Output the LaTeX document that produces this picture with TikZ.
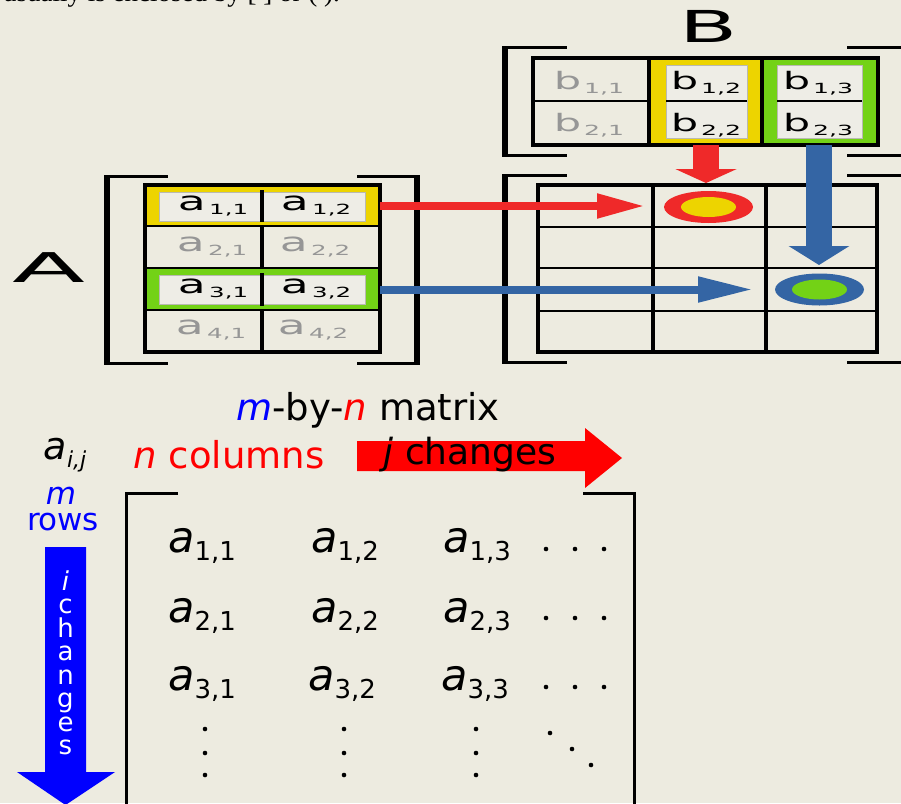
\documentclass[tikz,border=0pt]{standalone}
\usepackage{fontspec}
\setmainfont{DejaVu Sans}
\newfontfamily\serifo{Liberation Serif}
\usepackage{graphicx}
\usetikzlibrary{arrows.meta,shapes.geometric}
\definecolor{bg}{RGB}{237,235,224}
\definecolor{tyellow}{RGB}{237,212,0}
\definecolor{tgreen}{RGB}{115,210,22}
\definecolor{tred}{RGB}{239,41,41}
\definecolor{tblue}{RGB}{52,101,164}
\definecolor{cellbg}{RGB}{238,237,230}
\definecolor{cellline}{RGB}{185,185,178}
\definecolor{gtext}{RGB}{150,150,150}
\definecolor{mblue}{RGB}{0,0,255}
\definecolor{nred}{RGB}{255,0,0}
\newcommand{\tent}[2]{\scalebox{1.75}[1]{\fontsize{26}{26}\selectfont #1\kern2pt\raisebox{-4.5pt}{\fontsize{14}{14}\selectfont #2}}}
\newcommand{\bent}[1]{\scalebox{1.8}[1]{\fontsize{24}{24}\selectfont b\kern1.5pt\raisebox{-4pt}{\fontsize{14}{14}\selectfont #1}}}
\newcommand{\ment}[1]{\fontsize{43}{43}\selectfont\textit{a}\raisebox{-8pt}{\fontsize{26}{26}\selectfont #1}}
\tikzset{
  topent/.style={anchor=base, inner sep=0},
  grayent/.style={topent, text=gtext},
  cellbox/.style={fill=cellbg, draw=cellline, line width=1},
  gridout/.style={line width=3.5, black},
  gridthin/.style={line width=2.2, black},
  griddiv/.style={line width=4, black},
  brv/.style={line width=6, black},
  brh/.style={line width=3, black},
  hl/.style={inner sep=0, draw=none},
  ring/.style={ellipse, inner sep=0, minimum width=89, minimum height=32},
  core/.style={ellipse, inner sep=0, minimum width=55, minimum height=20},
  dotm/.style={black},
}
\begin{document}
\begin{tikzpicture}[x=1pt,y=-1pt]
\fill[bg] (0,0) rectangle (901,803);
\useasboundingbox (0,0) rectangle (901,803);

% clipped caption at the top edge
\node[anchor=base east, inner sep=0, font=\serifo\fontsize{27}{27}\selectfont] (cap) at (340,1.5) {usually is enclosed by [ ] or ( ).};

% ---------------- Matrix A ----------------
\fill[tyellow] (145,185) rectangle (380,226);
\fill[tgreen] (145,268) rectangle (380,310);
\foreach \yy in {192,275} {
  \filldraw[cellbox] (159,\yy) rectangle (262,\yy+29);
  \filldraw[cellbox] (262,\yy) rectangle (365,\yy+29);
}
\draw[gridout] (145,185) rectangle (380,352);
\draw[gridthin] (145,226) -- (380,226) (145,268) -- (380,268) (145,310) -- (380,310);
\draw[griddiv] (262,190) -- (262,222) (262,226) -- (262,268) (262,273) -- (262,306) (262,310) -- (262,352);
\draw[brv] (107,176) -- (107,363);
\draw[brh] (104,176) -- (168,176) (104,363) -- (168,363);
\draw[brv] (417,176) -- (417,363);
\draw[brh] (357,176) -- (420,176) (357,363) -- (420,363);
\node[hl, minimum width=235, minimum height=41] (Arow1) at (262.5,206) {};
\node[hl, minimum width=235, minimum height=41] (Arow3) at (262.5,289.5) {};

\node[topent] (a11) at (213,210) {\tent{a}{1,1}};
\node[topent] (a12) at (316,210) {\tent{a}{1,2}};
\node[grayent] (a21) at (212,251) {\tent{a}{2,1}};
\node[grayent] (a22) at (315,251) {\tent{a}{2,2}};
\node[topent] (a31) at (213,293) {\tent{a}{3,1}};
\node[topent] (a32) at (316,293) {\tent{a}{3,2}};
\node[grayent] (a41) at (211,334) {\tent{a}{4,1}};
\node[grayent] (a42) at (313,334) {\tent{a}{4,2}};
\node[anchor=base, inner sep=0] (labA) at (48.5,282) {\scalebox{2.6}[1]{\fontsize{41}{41}\selectfont A}};

% ---------------- Matrix B ----------------
\fill[tyellow] (649,58) rectangle (762,145);
\fill[tgreen] (762,58) rectangle (878,145);
\foreach \xa/\xb in {666/747,777/862} {
  \filldraw[cellbox] (\xa,65) rectangle (\xb,101);
  \filldraw[cellbox] (\xa,101) rectangle (\xb,138);
}
\draw[gridout] (533,58) rectangle (878,145);
\draw[griddiv] (649,58) -- (649,145) (762,58) -- (762,145);
\draw[gridthin] (533,101) -- (649,101) (666,101) -- (747,101) (777,101) -- (862,101);
\draw[brv] (505,47) -- (505,155);
\draw[brh] (502,47) -- (567,47) (502,155) -- (567,155);
\draw[brv] (907,47) -- (907,155);
\draw[brh] (847,47) -- (910,47) (847,155) -- (910,155);
\node[hl, minimum width=113, minimum height=87] (Bc2) at (706,101.5) {};
\node[hl, minimum width=113, minimum height=87] (Bc3) at (819,101.5) {};

\node[grayent] (b11) at (589,89) {\bent{1,1}};
\node[grayent] (b21) at (589,131) {\bent{2,1}};
\node[topent] (b12) at (706,89) {\bent{1,2}};
\node[topent] (b22) at (706,131) {\bent{2,2}};
\node[topent] (b13) at (818,89) {\bent{1,3}};
\node[topent] (b23) at (818,131) {\bent{2,3}};
\node[anchor=base, inner sep=0] (labB) at (709,42) {\scalebox{1.93}[1]{\fontsize{44}{44}\selectfont B}};

% ---------------- Result matrix ----------------
\draw[gridout] (538,185) rectangle (877,352);
\draw[griddiv] (653,185) -- (653,352) (766,185) -- (766,352);
\draw[gridthin] (538,227) -- (877,227) (538,268) -- (877,268) (538,311) -- (877,311);
\draw[brv] (505,175) -- (505,362);
\draw[brh] (502,175) -- (567,175) (502,362) -- (567,362);
\draw[brv] (907,175) -- (907,362);
\draw[brh] (847,175) -- (910,175) (847,362) -- (910,362);

\node[ring, fill=tred] (r1) at (708.5,207) {};
\node[core, fill=tyellow] (y1) at (r1.center) {};
\node[ring, fill=tblue] (r2) at (819.5,289.5) {};
\node[core, fill=tgreen] (g1) at (r2.center) {};

\coordinate (t1) at (645,206);
\coordinate (t2) at (753,289.5);
\coordinate (t3) at (706,183);
\coordinate (t4) at (819,265);
\draw[tred, line width=8, -{Triangle[length=48pt,width=23pt]}] (Arow1.east) -- (t1);
\draw[tblue, line width=8, -{Triangle[length=55pt,width=24pt]}] (Arow3.east) -- (t2);
\draw[tred, line width=26, -{Triangle[length=14pt,width=61pt]}] (Bc2.south) -- (t3);
\draw[tblue, line width=26, -{Triangle[length=19pt,width=60pt]}] (Bc3.south) -- (t4);

% ---------------- Bottom: m-by-n matrix ----------------
\node (title) at (368,410) {\fontsize{37}{37}\selectfont\textcolor{mblue}{\itshape m}-by-\textcolor{nred}{\itshape n} matrix};
\node (aij) at (65,455) {\fontsize{38}{38}\selectfont\itshape a\raisebox{-8pt}{\fontsize{22}{22}\selectfont i,j}};
\node[text=nred] (ncol) at (229,455) {\fontsize{37}{37}\selectfont\itshape n\upshape\ columns};

\fill[nred] (357,441) -- (585,441) -- (585,428) -- (622,458) -- (585,488) -- (585,471) -- (357,471) -- cycle;
\node (jch) at (470,455) {\fontsize{36}{36}\selectfont\itshape j\upshape\ changes};

\node[text=mblue, anchor=base, inner sep=0] (mlab) at (61,504) {\fontsize{31}{31}\selectfont\itshape m};
\node[text=mblue, anchor=base, inner sep=0] (rows) at (63,530) {\fontsize{31}{31}\selectfont r\kern-1.5pt ows};
\fill[mblue] (45,547) -- (86,547) -- (86,772) -- (115,772) -- (65.5,805) -- (17,772) -- (45,772) -- cycle;
\foreach \ch/\yy [count=\k] in {{\itshape i}/590,c/613.5,h/637,a/660.5,n/684,g/707.5,e/731,s/754.5} {
  \node[anchor=base, inner sep=0, text=white] (ic\k) at (65.5,\yy) {\fontsize{26}{26}\selectfont \ch};
}

\draw[line width=3] (178,493) -- (126,493) -- (126,815);
\draw[line width=3] (583,493) -- (634,493) -- (634,815);

\node[anchor=base] (m11) at (202,552) {\ment{1,1}};
\node[anchor=base] (m12) at (345,552) {\ment{1,2}};
\node[anchor=base] (m13) at (477,552) {\ment{1,3}};
\node[anchor=base] (m21) at (202,622) {\ment{2,1}};
\node[anchor=base] (m22) at (345,622) {\ment{2,2}};
\node[anchor=base] (m23) at (477,622) {\ment{2,3}};
\node[anchor=base] (m31) at (202,690) {\ment{3,1}};
\node[anchor=base] (m32) at (342,690) {\ment{3,2}};
\node[anchor=base] (m33) at (475,690) {\ment{3,3}};
\foreach \yy in {549,618,687} {
  \foreach \xx in {546,575,604} { \fill[dotm] (\xx,\yy) circle (2.3); }
}
\foreach \xx in {205,344,476} {
  \foreach \yy in {729,753,775} { \fill[dotm] (\xx,\yy) circle (2.3); }
}
\fill[dotm] (550,733) circle (2.3) (572,749) circle (2.3) (591,765) circle (2.3);
\end{tikzpicture}
\end{document}
